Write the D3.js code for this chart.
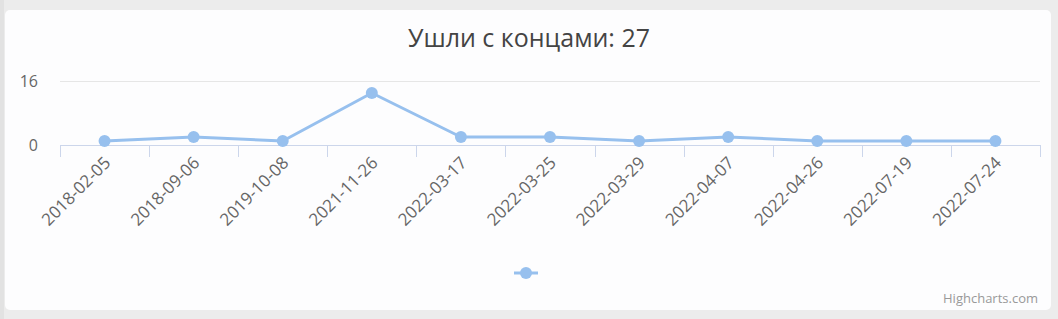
<!DOCTYPE html>
<html>
<head>
<meta charset="utf-8">
<script src="https://cdn.jsdelivr.net/npm/d3@7"></script>
<style>
  html, body { margin: 0; padding: 0; background: #ececec; }
  svg { display: block; }
</style>
</head>
<body>
<svg id="chart"></svg>
<script>
// data
var dates = ["2018-02-05", "2018-09-06", "2019-10-08", "2021-11-26", "2022-03-17",
             "2022-03-25", "2022-03-29", "2022-04-07", "2022-04-26", "2022-07-19", "2022-07-24"];
var counts = [1, 2, 1, 13, 2, 2, 1, 2, 1, 1, 1];
var yTicks = [0, 16];
var titleText = "Ушли с концами: " + d3.sum(counts);

var w = 1058, h = 319;
var plot = { left: 60, right: 1040, top: 81, bottom: 145 };
var lineColor = "#97c0ee";
var fontFamily = "'Open Sans', 'Noto Sans', sans-serif";

var svg = d3.select("#chart").attr("width", w).attr("height", h);

// page + card
svg.append("rect").attr("width", w).attr("height", h).attr("fill", "#ececec");
svg.append("rect").attr("x", 0).attr("y", 0).attr("width", 4).attr("height", h).attr("fill", "#e2e2e2");
svg.append("rect")
    .attr("x", 5).attr("y", 10)
    .attr("width", 1046).attr("height", 300)
    .attr("rx", 5)
    .attr("fill", "#fdfdfe");

// title
svg.append("text")
    .attr("x", w / 2).attr("y", 47)
    .attr("text-anchor", "middle")
    .attr("font-family", fontFamily)
    .attr("font-size", "25px")
    .attr("fill", "#444")
    .text(titleText);

var x = d3.scaleBand().domain(dates).range([plot.left, plot.right]);
var y = d3.scaleLinear().domain([0, 16]).range([plot.bottom, plot.top]);

// grid
svg.append("g").selectAll("line")
    .data(yTicks.filter(function(d) { return d > 0; }))
    .join("line")
    .attr("x1", plot.left).attr("x2", plot.right)
    .attr("y1", function(d) { return y(d) + 0.5; })
    .attr("y2", function(d) { return y(d) + 0.5; })
    .attr("stroke", "#e6e6e6");

// y labels
svg.append("g").selectAll("text")
    .data(yTicks)
    .join("text")
    .attr("x", 38)
    .attr("y", function(d) { return y(d) + 6; })
    .attr("text-anchor", "end")
    .attr("font-family", fontFamily)
    .attr("font-size", "16px")
    .attr("fill", "#666")
    .text(function(d) { return d; });

// x axis with ticks on the category boundaries
var boundaries = dates.map(function(d) { return x(d); }).concat([plot.right]);
var xAxis = svg.append("g");
xAxis.append("line")
    .attr("x1", plot.left).attr("x2", plot.right)
    .attr("y1", plot.bottom + 0.5).attr("y2", plot.bottom + 0.5)
    .attr("stroke", "#ccd6eb");
xAxis.selectAll(".tick")
    .data(boundaries)
    .join("line")
    .attr("class", "tick")
    .attr("x1", function(d) { return Math.round(d) + 0.5; })
    .attr("x2", function(d) { return Math.round(d) + 0.5; })
    .attr("y1", plot.bottom).attr("y2", plot.bottom + 12)
    .attr("stroke", "#ccd6eb");

xAxis.selectAll(".lbl")
    .data(dates)
    .join("text")
    .attr("class", "lbl")
    .attr("text-anchor", "end")
    .attr("font-family", fontFamily)
    .attr("font-size", "17px")
    .attr("fill", "#666")
    .attr("transform", function(d) {
        var cx = x(d) + x.bandwidth() / 2 + 7;
        return "translate(" + cx + "," + (plot.bottom + 19) + ") rotate(-45)";
    })
    .text(function(d) { return d; });

// series
var cxOf = function(i) { return x(dates[i]) + x.bandwidth() / 2; };
svg.append("path")
    .datum(counts)
    .attr("fill", "none")
    .attr("stroke", lineColor)
    .attr("stroke-width", 3)
    .attr("stroke-linejoin", "round")
    .attr("d", d3.line()
        .x(function(d, i) { return cxOf(i); })
        .y(function(d) { return y(d); }));

svg.append("g").selectAll("circle")
    .data(counts)
    .join("circle")
    .attr("cx", function(d, i) { return cxOf(i); })
    .attr("cy", function(d) { return y(d); })
    .attr("r", 6)
    .attr("fill", lineColor);

// legend
var legend = svg.append("g").attr("transform", "translate(526,273)");
legend.append("line")
    .attr("x1", -12).attr("x2", 12)
    .attr("stroke", lineColor).attr("stroke-width", 3);
legend.append("circle").attr("r", 6).attr("fill", lineColor);

// credits
svg.append("text")
    .attr("x", 1038).attr("y", 303)
    .attr("text-anchor", "end")
    .attr("font-family", fontFamily)
    .attr("font-size", "13px")
    .attr("fill", "#999")
    .text("Highcharts.com");
</script>
</body>
</html>
